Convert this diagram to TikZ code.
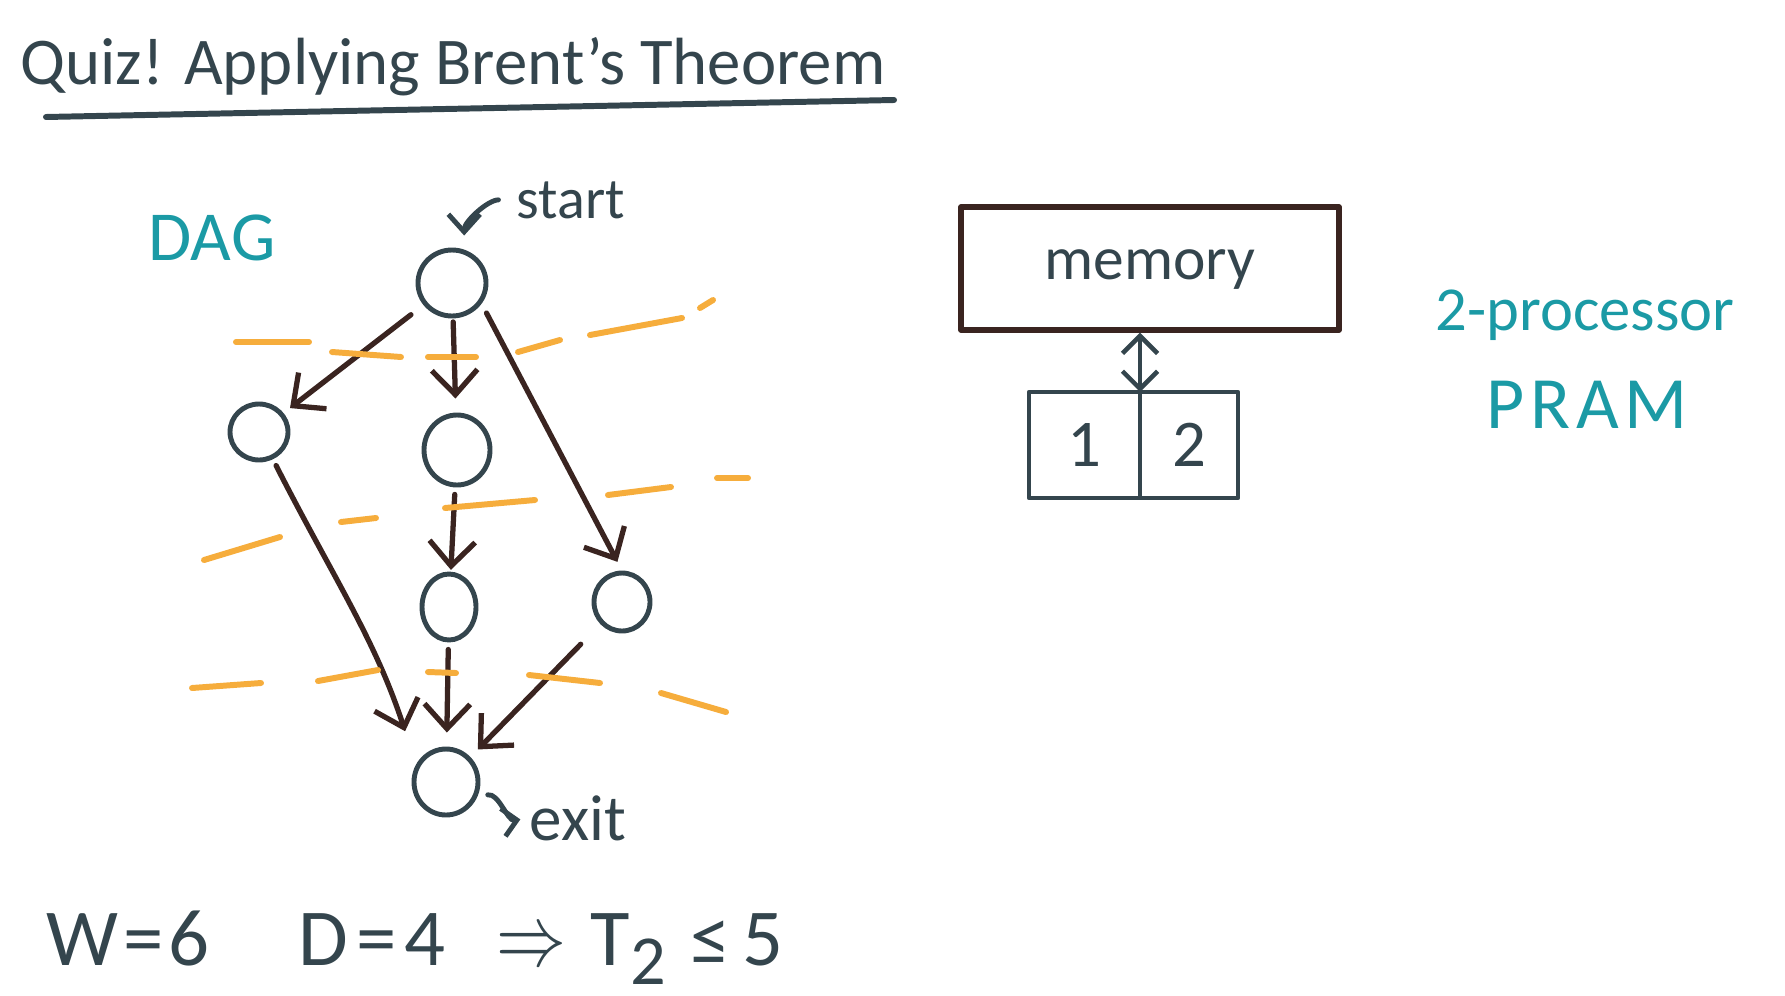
\documentclass[tikz,border=0pt]{standalone}
\usepackage{fontspec}
\setmainfont{Carlito}
\usetikzlibrary{arrows.meta,shapes.geometric,positioning}
\definecolor{ink}{HTML}{34454D}
\definecolor{brn}{HTML}{3A2420}
\definecolor{tealink}{HTML}{1B9AA5}
\definecolor{ora}{HTML}{F6AD3C}
\tikzset{
  vtx/.style={ellipse, draw=ink, line width=1.4pt, inner sep=0pt},
  dep/.style={brn, line width=1.5pt, -{Straight Barb[length=7pt,width=13pt]},
    shorten <=2pt, shorten >=3pt},
  lvl/.style={ora, line width=1.7pt, line cap=round},
  cell/.style={draw=ink, line width=1.3pt, outer sep=0pt, minimum height=1.06cm,
    text=ink, font=\fontsize{19}{22}\selectfont},
  lbl/.style={anchor=base west, inner sep=0pt, text=ink},
}
\newcommand{\eqsign}{\kern0.06em=\kern0.06em}
\begin{document}
\begin{tikzpicture}[line cap=round, line join=round]
  \useasboundingbox (0,0) rectangle (17.85,9.95);
  % title
  \node[lbl, font=\fontsize{19}{22}\selectfont] (title) at (0.20,9.10) {Quiz! Applying Brent's Theorem};
  \coordinate (ul1) at (0.46,8.78);
  \coordinate (ul2) at (8.94,8.95);
  \draw[ink, line width=1.7pt] (ul1) -- (ul2);
  % DAG
  \node[lbl, text=tealink, font=\fontsize{20}{24}\selectfont] (dag) at (1.48,7.35) {DAG};
  \node[vtx, minimum width=0.68cm, minimum height=0.66cm] (A) at (4.52,7.12) {};
  \node[vtx, minimum width=0.58cm, minimum height=0.56cm] (B) at (2.59,5.63) {};
  \node[vtx, minimum width=0.66cm, minimum height=0.70cm] (C) at (4.57,5.45) {};
  \node[vtx, minimum width=0.54cm, minimum height=0.66cm] (D) at (4.49,3.88) {};
  \node[vtx, minimum width=0.56cm, minimum height=0.58cm] (E) at (6.22,3.93) {};
  \node[vtx, minimum width=0.64cm, minimum height=0.66cm] (F) at (4.46,2.13) {};
  \draw[dep, shorten <=4.5pt, shorten >=2.3pt] (A) -- (B);
  \draw[dep, shorten <=1pt, shorten >=4pt] (A) -- (C);
  \draw[dep, shorten <=3pt, shorten >=2.8pt] (A.-35) -- (E.north);
  \draw[dep, shorten >=10pt] (B) to[out=-63,in=108] (F.150);
  \draw[dep, shorten >=0.5pt] (C) -- (D);
  \draw[dep, shorten >=4pt] (D) -- (F);
  \draw[dep, shorten <=8pt] (E) -- (F);
  % start / exit
  \node[lbl, font=\fontsize{16.5}{19}\selectfont] (st) at (5.16,7.77) {start};
  \draw[ink, line width=1.4pt, -{Straight Barb[length=5pt,width=9pt]}, shorten <=5pt, shorten >=4pt]
    (st.west) to[out=180,in=90] (A.70);
  \node[lbl, font=\fontsize{18.5}{21}\selectfont] (ex) at (5.29,1.55) {exit};
  \draw[ink, line width=1.4pt, -{Straight Barb[length=4pt,width=8pt]}, shorten <=3pt, shorten >=2.5pt]
    (F.-25) to[out=10,in=190] (ex.west);
  % levels
  \foreach \a/\b/\c/\d in {2.36/6.53/3.09/6.53, 3.32/6.43/4.01/6.38, 4.28/6.38/4.76/6.38,
      5.18/6.43/5.60/6.55, 5.90/6.60/6.82/6.77, 7.00/6.87/7.13/6.95,
      2.04/4.35/2.80/4.58, 3.41/4.73/3.76/4.77, 4.45/4.87/5.35/4.95,
      6.08/5.00/6.71/5.08, 7.17/5.17/7.48/5.17,
      1.92/3.07/2.61/3.12, 3.18/3.14/3.78/3.25, 4.28/3.23/4.56/3.22,
      5.29/3.20/6.00/3.12, 6.61/3.02/7.26/2.83}
    \draw[lvl] (\a,\b) -- (\c,\d);
  % bound
  \node[lbl, font=\fontsize{23}{28}\selectfont] (work) at (0.46,0.30) {W\eqsign6};
  \node[lbl, font=\fontsize{23}{28}\selectfont] (bound) at (2.98,0.30)
    {D\kern0.1em=\kern0.1em4\hspace{0.63em}\scalebox{0.8}[1]{$\Rightarrow$}\hspace{0.3em}T\raisebox{-0.5ex}{\fontsize{20}{20}\selectfont 2}\hspace{0.3em}≤\hspace{0.15em}5};
  % PRAM
  \node[draw=brn, line width=1.5pt, minimum width=3.78cm, minimum height=1.23cm, text=ink,
    font=\fontsize{17.5}{21}\selectfont] (mem) at (11.50,7.265) {\raisebox{-1.1ex}{memory}};
  \node[cell, minimum width=1.11cm] (p1) at (10.845,5.50) {1};
  \node[cell, minimum width=0.98cm, right=0pt of p1] (p2) {2};
  \draw[ink, line width=1.3pt, {Straight Barb[length=5pt,width=10pt]}-{Straight Barb[length=5pt,width=10pt]}]
    (p1.north east) -- (p1.north east |- mem.south);
  \node[anchor=base, text=tealink, font=\fontsize{17.8}{21}\selectfont] (pp) at (15.85,6.65) {2-processor};
  \node[anchor=base, text=tealink, font=\fontsize{21}{24}\selectfont\addfontfeature{LetterSpace=8}] (pram) at (15.87,5.67) {PRAM};
\end{tikzpicture}
\end{document}
